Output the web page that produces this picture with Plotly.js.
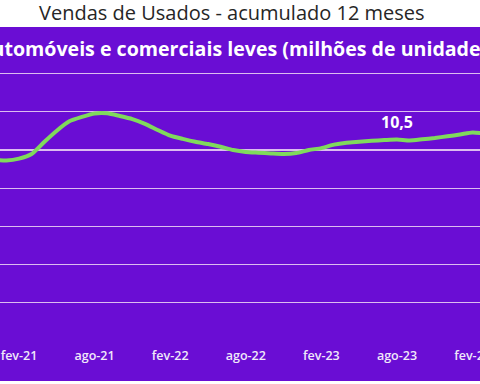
<!DOCTYPE html>
<html>
<head>
<meta charset="utf-8">
<script src="https://cdn.plot.ly/plotly-3.0.1.min.js"></script>
<style>html,body{margin:0;padding:0;background:#fff;}#chart{width:480px;height:384px;}</style>
</head>
<body>
<div id="chart"></div>
<script>
// Data
const months = ['dez-20','jan-21','fev-21','mar-21','abr-21','mai-21','jun-21','jul-21','ago-21','set-21','out-21','nov-21','dez-21',
  'jan-22','fev-22','mar-22','abr-22','mai-22','jun-22','jul-22','ago-22','set-22','out-22','nov-22','dez-22',
  'jan-23','fev-23','mar-23','abr-23','mai-23','jun-23','jul-23','ago-23','set-23','out-23','nov-23','dez-23',
  'jan-24','fev-24','mar-24'];
const vendas = [9.48, 9.45, 9.55, 9.79, 10.42, 11.01, 11.50, 11.73, 11.91, 11.92, 11.78, 11.62, 11.37,
  11.05, 10.75, 10.58, 10.43, 10.31, 10.17, 10.00, 9.90, 9.86, 9.82, 9.79, 9.84,
  10.00, 10.10, 10.28, 10.38, 10.43, 10.48, 10.52, 10.55, 10.50, 10.56, 10.63, 10.72,
  10.81, 10.92, 10.86];
const tickLabels = ['fev-21','ago-21','fev-22','ago-22','fev-23','ago-23','fev-24'];
const gridValues = [0, 2, 4, 6, 8, 10, 12, 14];
const labelMonth = 'ago-23';
const labelText = '10,5';

const purple = '#6a0dd4';
const plotTop = 27, plotBottom = 341, purpleBottom = 381;
const H = 384;
const plotH = plotBottom - plotTop;

const trace = {
  x: months, y: vendas, type: 'scatter', mode: 'lines',
  line: {color: '#80da5c', width: 4, shape: 'spline', smoothing: 0.6},
  hoverinfo: 'skip', cliponaxis: true
};

const layout = {
  width: 480, height: 384,
  margin: {l: 0, r: 0, t: plotTop, b: H - plotBottom, pad: 0},
  paper_bgcolor: '#ffffff',
  plot_bgcolor: purple,
  showlegend: false,
  font: {family: 'Open Sans, sans-serif'},
  title: {
    text: 'Vendas de Usados - acumulado 12 meses',
    x: 0.483, xanchor: 'center', y: 1 - 12.5/H, yanchor: 'middle', yref: 'container',
    font: {family: 'Open Sans, sans-serif', size: 20, color: '#262626', weight: 500}
  },
  xaxis: {
    type: 'category',
    range: [0.492, 38.59],
    tickvals: tickLabels, ticktext: tickLabels,
    showgrid: false, zeroline: false, showline: false, ticks: '',
    tickfont: {family: 'Open Sans, sans-serif', size: 12.5, color: '#f0e8fa', weight: 600},
    ticklabelstandoff: 5,
    fixedrange: true
  },
  yaxis: {
    range: [0, plotH / 19.1],
    tickvals: gridValues,
    showticklabels: false, ticks: '',
    showgrid: true, gridcolor: 'rgba(240,220,245,0.85)', gridwidth: 1.2,
    zeroline: false, showline: false, fixedrange: true
  },
  shapes: [{
    type: 'rect', xref: 'paper', yref: 'paper', layer: 'below',
    x0: 0, x1: 1, y0: -(purpleBottom - plotBottom) / plotH, y1: 1,
    fillcolor: purple, line: {width: 0}
  }],
  annotations: [
    {
      text: 'Automóveis e comerciais leves (milhões de unidades)',
      xref: 'paper', yref: 'paper', x: -24/480, xanchor: 'left',
      y: 1 - (48 - plotTop) / plotH, yanchor: 'middle', showarrow: false,
      font: {family: 'Open Sans, sans-serif', size: 19.6, color: '#ffffff', weight: 700}
    },
    {
      text: labelText, x: labelMonth, y: vendas[months.indexOf(labelMonth)],
      xref: 'x', yref: 'y', showarrow: false, yshift: 17, yanchor: 'middle',
      font: {family: 'Open Sans, sans-serif', size: 16, color: '#ffffff', weight: 700}
    }
  ]
};

Plotly.newPlot('chart', [trace], layout, {displayModeBar: false, staticPlot: true});
</script>
</body>
</html>
